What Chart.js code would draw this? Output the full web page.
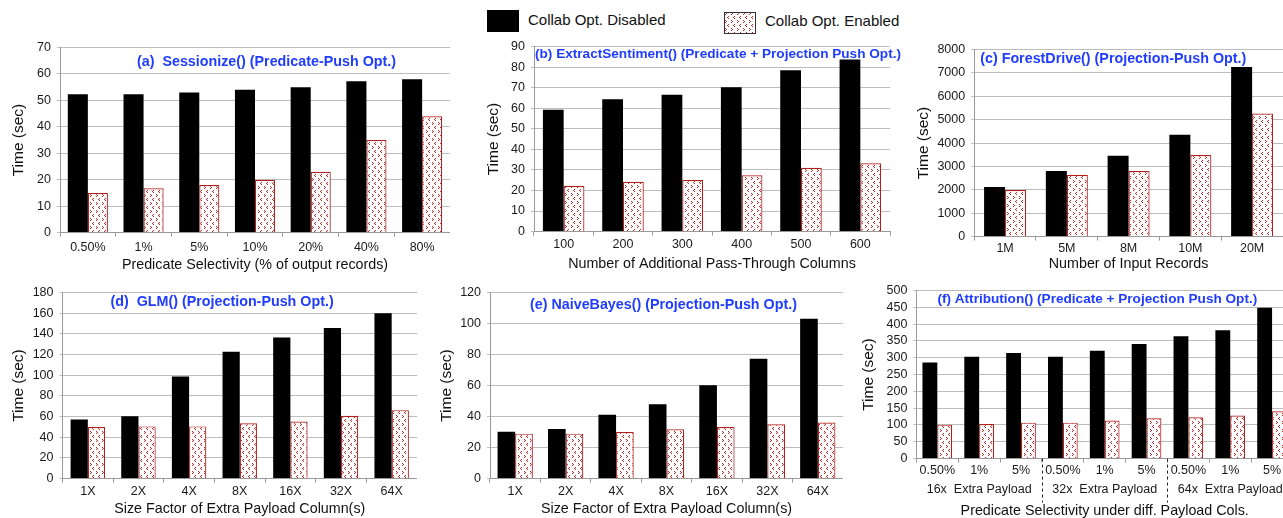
<!DOCTYPE html>
<html>
<head>
<meta charset="utf-8">
<script src="https://cdn.jsdelivr.net/npm/chart.js@4.4.0/dist/chart.umd.min.js"></script>
<style>
html, body { margin: 0; padding: 0; background: #fff; overflow: hidden; width: 1283px; height: 518px; }
body { position: relative; font-family: "Liberation Sans", Arial, Helvetica, sans-serif; }
canvas.panel { position: absolute; }
.legend-box { position: absolute; }
.legend-text { position: absolute; font-size: 15px; line-height: 18px; color: #111; white-space: nowrap; }
</style>
</head>
<body>
<div class="legend-box" style="left:487px;top:10px;width:32px;height:22px;background:#000"></div>
<div class="legend-text" style="left:528px;top:11px">Collab Opt. Disabled</div>
<canvas id="legendHatch" class="legend-box" width="32" height="22" style="left:724px;top:12px"></canvas>
<div class="legend-text" style="left:765px;top:12px">Collab Opt. Enabled</div>

<canvas id="chartA" class="panel"></canvas>
<canvas id="chartB" class="panel"></canvas>
<canvas id="chartC" class="panel"></canvas>
<canvas id="chartD" class="panel"></canvas>
<canvas id="chartE" class="panel"></canvas>
<canvas id="chartF" class="panel"></canvas>

<script>
// (a) Sessionize
const selectivityA = ['0.50%', '1%', '5%', '10%', '20%', '40%', '80%'];
const disabledA = [52.3, 52.3, 53, 54, 55, 57.2, 58];
const enabledA = [15, 16.8, 18, 20, 23, 35, 44];

// (b) ExtractSentiment
const columnsB = ['100', '200', '300', '400', '500', '600'];
const disabledB = [59.2, 64.3, 66.5, 70.2, 78.5, 83.7];
const enabledB = [22.3, 24.2, 25.1, 27.4, 31, 33.2];

// (c) ForestDrive
const recordsC = ['1M', '5M', '8M', '10M', '20M'];
const disabledC = [2120, 2810, 3460, 4360, 7250];
const enabledC = [1990, 2640, 2800, 3490, 5260];

// (d) GLM
const payloadD = ['1X', '2X', '4X', '8X', '16X', '32X', '64X'];
const disabledD = [57.2, 60.2, 98.8, 122.6, 136.4, 145.6, 160];
const enabledD = [49.8, 50.5, 50.5, 53.5, 55.2, 60.8, 66.2];

// (e) NaiveBayes
const payloadE = ['1X', '2X', '4X', '8X', '16X', '32X', '64X'];
const disabledE = [30.2, 32, 41.2, 48, 60.2, 77.3, 103];
const enabledE = [29, 29, 30, 31.8, 33.2, 35, 36.2];

// (f) Attribution
const selectivityF = ['0.50%', '1%', '5%', '0.50%', '1%', '5%', '0.50%', '1%', '5%'];
const groupsF = ['16x  Extra Payload', '32x  Extra Payload', '64x  Extra Payload'];
const disabledF = [286, 303, 314, 303, 321, 341, 364, 382, 449];
const enabledF = [101, 103, 107, 107, 113, 120, 123, 128, 141];

const FONT = '"Liberation Sans", Arial, Helvetica, sans-serif';
Chart.defaults.font.family = FONT;
Chart.defaults.color = '#1a1a1a';

function makeHatch(ctx) {
    const c = document.createElement('canvas');
    c.width = 6; c.height = 8;
    const g = c.getContext('2d');
    g.fillStyle = '#fff';
    g.fillRect(0, 0, 6, 8);
    g.fillStyle = '#c42a2a';
    [[1, 0], [2, 1], [1, 2], [4, 4], [3, 5], [4, 6]].forEach(([x, y]) => g.fillRect(x, y, 1, 1));
    return ctx.createPattern(c, 'repeat');
}

// legend swatch
(function () {
    const lc = document.getElementById('legendHatch').getContext('2d');
    lc.fillStyle = makeHatch(lc);
    lc.fillRect(0, 0, 32, 22);
    lc.strokeStyle = '#333';
    lc.lineWidth = 1;
    lc.strokeRect(0.5, 0.5, 31, 21);
})();

// blue title drawn inside the plot area
const panelTitle = {
    id: 'panelTitle',
    afterDatasetsDraw(chart, args, opts) {
        const { ctx, chartArea } = chart;
        ctx.save();
        ctx.font = 'bold ' + opts.size + 'px ' + FONT;
        ctx.fillStyle = '#1f3cff';
        ctx.textBaseline = 'middle';
        ctx.fillText(opts.text, chartArea.left + opts.dx, chartArea.top + opts.dy);
        ctx.restore();
    }
};

// dashed group separators + group names under the x ticks of (f)
const groupMarks = {
    id: 'groupMarks',
    afterDraw(chart, args, opts) {
        const { ctx, chartArea } = chart;
        const x = chart.scales.x;
        ctx.save();
        ctx.strokeStyle = '#222';
        ctx.setLineDash([3, 3]);
        ctx.lineWidth = 1;
        for (let g = 1; g < opts.groups.length; g++) {
            const px = Math.round((x.getPixelForValue(g * 3 - 1) + x.getPixelForValue(g * 3)) / 2) + 0.5;
            ctx.beginPath();
            ctx.moveTo(px, chartArea.bottom);
            ctx.lineTo(px, chartArea.bottom + 44);
            ctx.stroke();
        }
        ctx.setLineDash([]);
        ctx.font = '12.5px ' + FONT;
        ctx.fillStyle = '#1a1a1a';
        ctx.textAlign = 'center';
        ctx.textBaseline = 'middle';
        opts.groups.forEach((name, g) => {
            ctx.fillText(name, x.getPixelForValue(g * 3 + 1), chartArea.bottom + 31);
        });
        ctx.restore();
    }
};

function panel(id, box, labels, disabled, enabled, yMax, yStep, xTitle, title, extra) {
    const cv = document.getElementById(id);
    const top = box.t - 10;
    const pr = box.pr || 0;
    const w = Math.round(box.r + pr - box.cl);
    const h = Math.round(box.b + box.xh - top);
    cv.width = w; cv.height = h;
    cv.style.left = box.cl + 'px';
    cv.style.top = top + 'px';
    cv.style.width = w + 'px';
    cv.style.height = h + 'px';
    const ctx = cv.getContext('2d');
    const yW = box.l - box.cl;
    return new Chart(ctx, {
        type: 'bar',
        data: {
            labels: labels,
            datasets: [
                { label: 'Collab Opt. Disabled', data: disabled, backgroundColor: '#000', borderWidth: 0 },
                { label: 'Collab Opt. Enabled', data: enabled, backgroundColor: makeHatch(ctx), borderColor: '#b3201c', borderWidth: 1.2 }
            ]
        },
        options: {
            responsive: false,
            animation: false,
            layout: { padding: { top: 10, left: 0, right: pr, bottom: 0 } },
            datasets: { bar: { categoryPercentage: box.cp, barPercentage: 1 } },
            scales: {
                x: {
                    afterFit: (s) => { s.height = box.xh; },
                    ticks: { font: { size: 12.5 }, color: '#1a1a1a', padding: box.tp, maxRotation: 0, autoSkip: false },
                    grid: { drawOnChartArea: false, tickLength: 4, color: '#999' },
                    border: { color: '#999' },
                    title: { display: true, text: xTitle, font: { size: 14.3 }, color: '#111', padding: { top: 0, bottom: 0 } }
                },
                y: {
                    min: 0,
                    max: yMax,
                    afterFit: (s) => { s.width = yW; },
                    ticks: {
                        stepSize: yStep, autoSkip: false, font: { size: 12.5 }, color: '#1a1a1a', padding: 6,
                        callback: (v) => String(v)
                    },
                    grid: { color: '#bdbdbd', tickLength: 3 },
                    border: { color: '#999' },
                    title: { display: true, text: 'Time (sec)', font: { size: 15.5 }, color: '#111', padding: { top: 4, bottom: 0 } }
                }
            },
            plugins: {
                legend: { display: false },
                tooltip: { enabled: false },
                panelTitle: title,
                groupMarks: extra ? extra.opts : {}
            }
        },
        plugins: [panelTitle].concat(extra ? [extra.plugin] : [])
    });
}

panel('chartA', { cl: 5, l: 60, r: 450, t: 44, b: 233, xh: 41.4, cp: 0.72, tp: 3 },
    selectivityA, disabledA, enabledA, 70, 10,
    'Predicate Selectivity (% of output records)',
    { text: '(a)  Sessionize() (Predicate-Push Opt.)', size: 14.3, dx: 77, dy: 15 });

panel('chartB', { cl: 480, l: 534, r: 889.7, pr: 15, t: 43, b: 232, xh: 41.4, cp: 0.70, tp: 1 },
    columnsB, disabledB, enabledB, 90, 10,
    'Number of Additional Pass-Through Columns',
    { text: '(b) ExtractSentiment() (Predicate + Projection Push Opt.)', size: 13.6, dx: 1, dy: 8 });

panel('chartC', { cl: 910, l: 974.2, r: 1282.6, t: 46, b: 236.7, xh: 36.4, cp: 0.68, tp: 0 },
    recordsC, disabledC, enabledC, 8000, 1000,
    'Number of Input Records',
    { text: '(c) ForestDrive() (Projection-Push Opt.)', size: 14.3, dx: 6, dy: 10 });

panel('chartD', { cl: 5, l: 62.5, r: 416.5, t: 289, b: 479, xh: 39.4, cp: 0.68, tp: 1 },
    payloadD, disabledD, enabledD, 180, 20,
    'Size Factor of Extra Payload Column(s)',
    { text: '(d)  GLM() (Projection-Push Opt.)', size: 14.3, dx: 48, dy: 10 });

panel('chartE', { cl: 433, l: 490, r: 843, t: 289, b: 479, xh: 39.4, cp: 0.70, tp: 1 },
    payloadE, disabledE, enabledE, 120, 20,
    'Size Factor of Extra Payload Column(s)',
    { text: '(e) NaiveBayes() (Projection-Push Opt.)', size: 14.3, dx: 40, dy: 13 });

panel('chartF', { cl: 855, l: 916.4, r: 1292.6, t: 287, b: 459, xh: 61.4, cp: 0.71, tp: 0 },
    selectivityF, disabledF, enabledF, 500, 50,
    'Predicate Selectivity under diff. Payload Cols.',
    { text: '(f) Attribution() (Predicate + Projection Push Opt.)', size: 13.6, dx: 21, dy: 9 },
    { plugin: groupMarks, opts: { groups: groupsF } });
</script>
</body>
</html>
